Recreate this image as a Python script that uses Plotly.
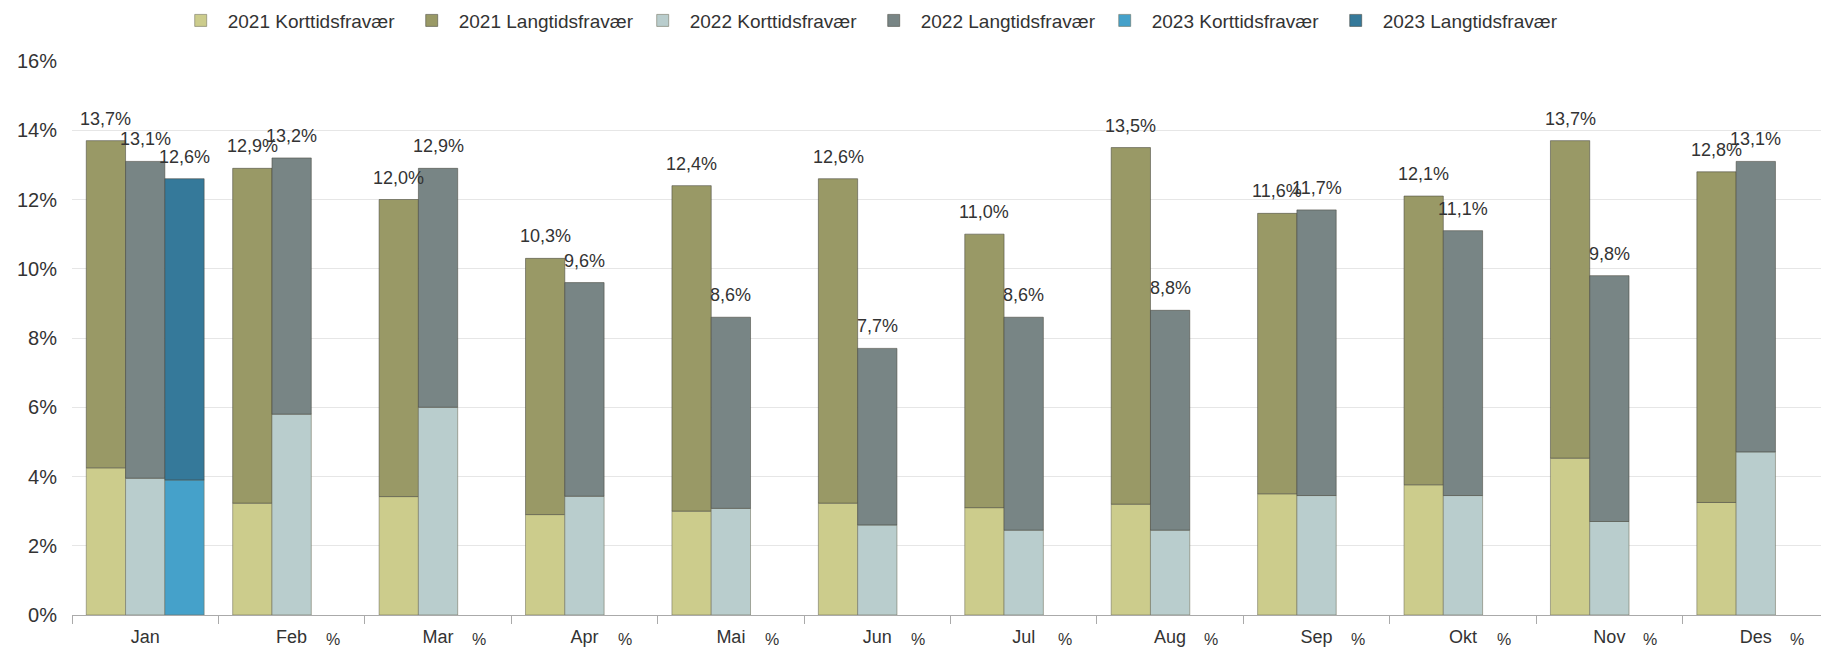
#Sick leave per month, grouped + stacked bars (2021-2023)

import plotly.graph_objects as go

#data
months = ["Jan", "Feb", "Mar", "Apr", "Mai", "Jun", "Jul", "Aug", "Sep", "Okt", "Nov", "Des"]

kort_2021 = [4.25, 3.23, 3.42, 2.9, 3.0, 3.23, 3.1, 3.2, 3.5, 3.76, 4.53, 3.25]
total_2021 = [13.7, 12.9, 12.0, 10.3, 12.4, 12.6, 11.0, 13.5, 11.6, 12.1, 13.7, 12.8]

kort_2022 = [3.95, 5.8, 6.0, 3.43, 3.08, 2.6, 2.45, 2.45, 3.45, 3.45, 2.7, 4.71]
total_2022 = [13.1, 13.2, 12.9, 9.6, 8.6, 7.7, 8.6, 8.8, 11.7, 11.1, 9.8, 13.1]

kort_2023 = [3.9] + [None] * 11
total_2023 = [12.6] + [None] * 11

years = [
  ("2021", kort_2021, total_2021, "#cccc8c", "#999966", -0.268),
  ("2022", kort_2022, total_2022, "#b9cdcd", "#788585", 0.0),
  ("2023", kort_2023, total_2023, "#45a1ca", "#35799a", 0.268),
]

FONT = "Liberation Sans, Arial, sans-serif"
TXT = "#333333"

fig = go.Figure()
annotations = []

for year, kort, total, c_kort, c_lang, offs in years:
  lang = [t - k if t is not None else None for k, t in zip(kort, total)]

  fig.add_trace(go.Bar(
      x=months, y=kort,
      name=f"{year} Korttidsfravær",
      offsetgroup=year,
      marker=dict(color=c_kort, line=dict(color="rgba(110,110,90,0.55)", width=1)),
      hoverinfo="skip"))
  fig.add_trace(go.Bar(
      x=months, y=lang, base=kort,
      name=f"{year} Langtidsfravær",
      offsetgroup=year,
      marker=dict(color=c_lang, line=dict(color="rgba(70,70,60,0.55)", width=1)),
      hoverinfo="skip"))

  #total labels on top of each stack
  for i, t in enumerate(total):
    if t is None:
      continue
    annotations.append(dict(
        x=i + offs, y=t, xref="x", yref="y",
        text=f"{t:.1f}%".replace(".", ","),
        showarrow=False, yanchor="bottom", yshift=10,
        font=dict(family=FONT, size=18, color=TXT)))

#the stray "%" after each month label (except Jan)
for i in range(1, len(months)):
  annotations.append(dict(
      x=i + 0.28, y=0, xref="x", yref="paper",
      text="%", showarrow=False, yanchor="middle", yshift=-24,
      font=dict(family=FONT, size=16, color=TXT)))

#page body adds ~8px offset, so the figure is a bit smaller than the window
fig.update_layout(
    barmode="group",
    bargap=0.195,
    bargroupgap=0,
    width=1821, height=645,
    margin=dict(l=64, r=0, t=53, b=38, autoexpand=False),
    plot_bgcolor="white",
    paper_bgcolor="white",
    font=dict(family=FONT, size=18, color=TXT),
    annotations=annotations,
    legend=dict(
        orientation="h",
        xref="container", yref="paper",
        x=0.091, xanchor="left",
        y=1.073, yanchor="middle",
        itemwidth=44,
        entrywidth=172, entrywidthmode="pixels",
        font=dict(family=FONT, size=19, color=TXT),
        itemclick=False))

#x-axis
fig.update_xaxes(
    showline=True, linecolor="#aaaaaa", linewidth=1,
    ticks="outside", tickson="boundaries", ticklen=8, tickcolor="#aaaaaa",
    ticklabelstandoff=5,
    tickfont=dict(family=FONT, size=18, color=TXT),
    showgrid=False)

#y-axis
fig.update_yaxes(
    range=[0, 16], dtick=2, ticksuffix="%",
    showgrid=True, gridcolor="#e6e6e6", gridwidth=1,
    zeroline=False, showline=False,
    ticklabelstandoff=14,
    tickfont=dict(family=FONT, size=20, color=TXT))

fig.write_html("out.html")
